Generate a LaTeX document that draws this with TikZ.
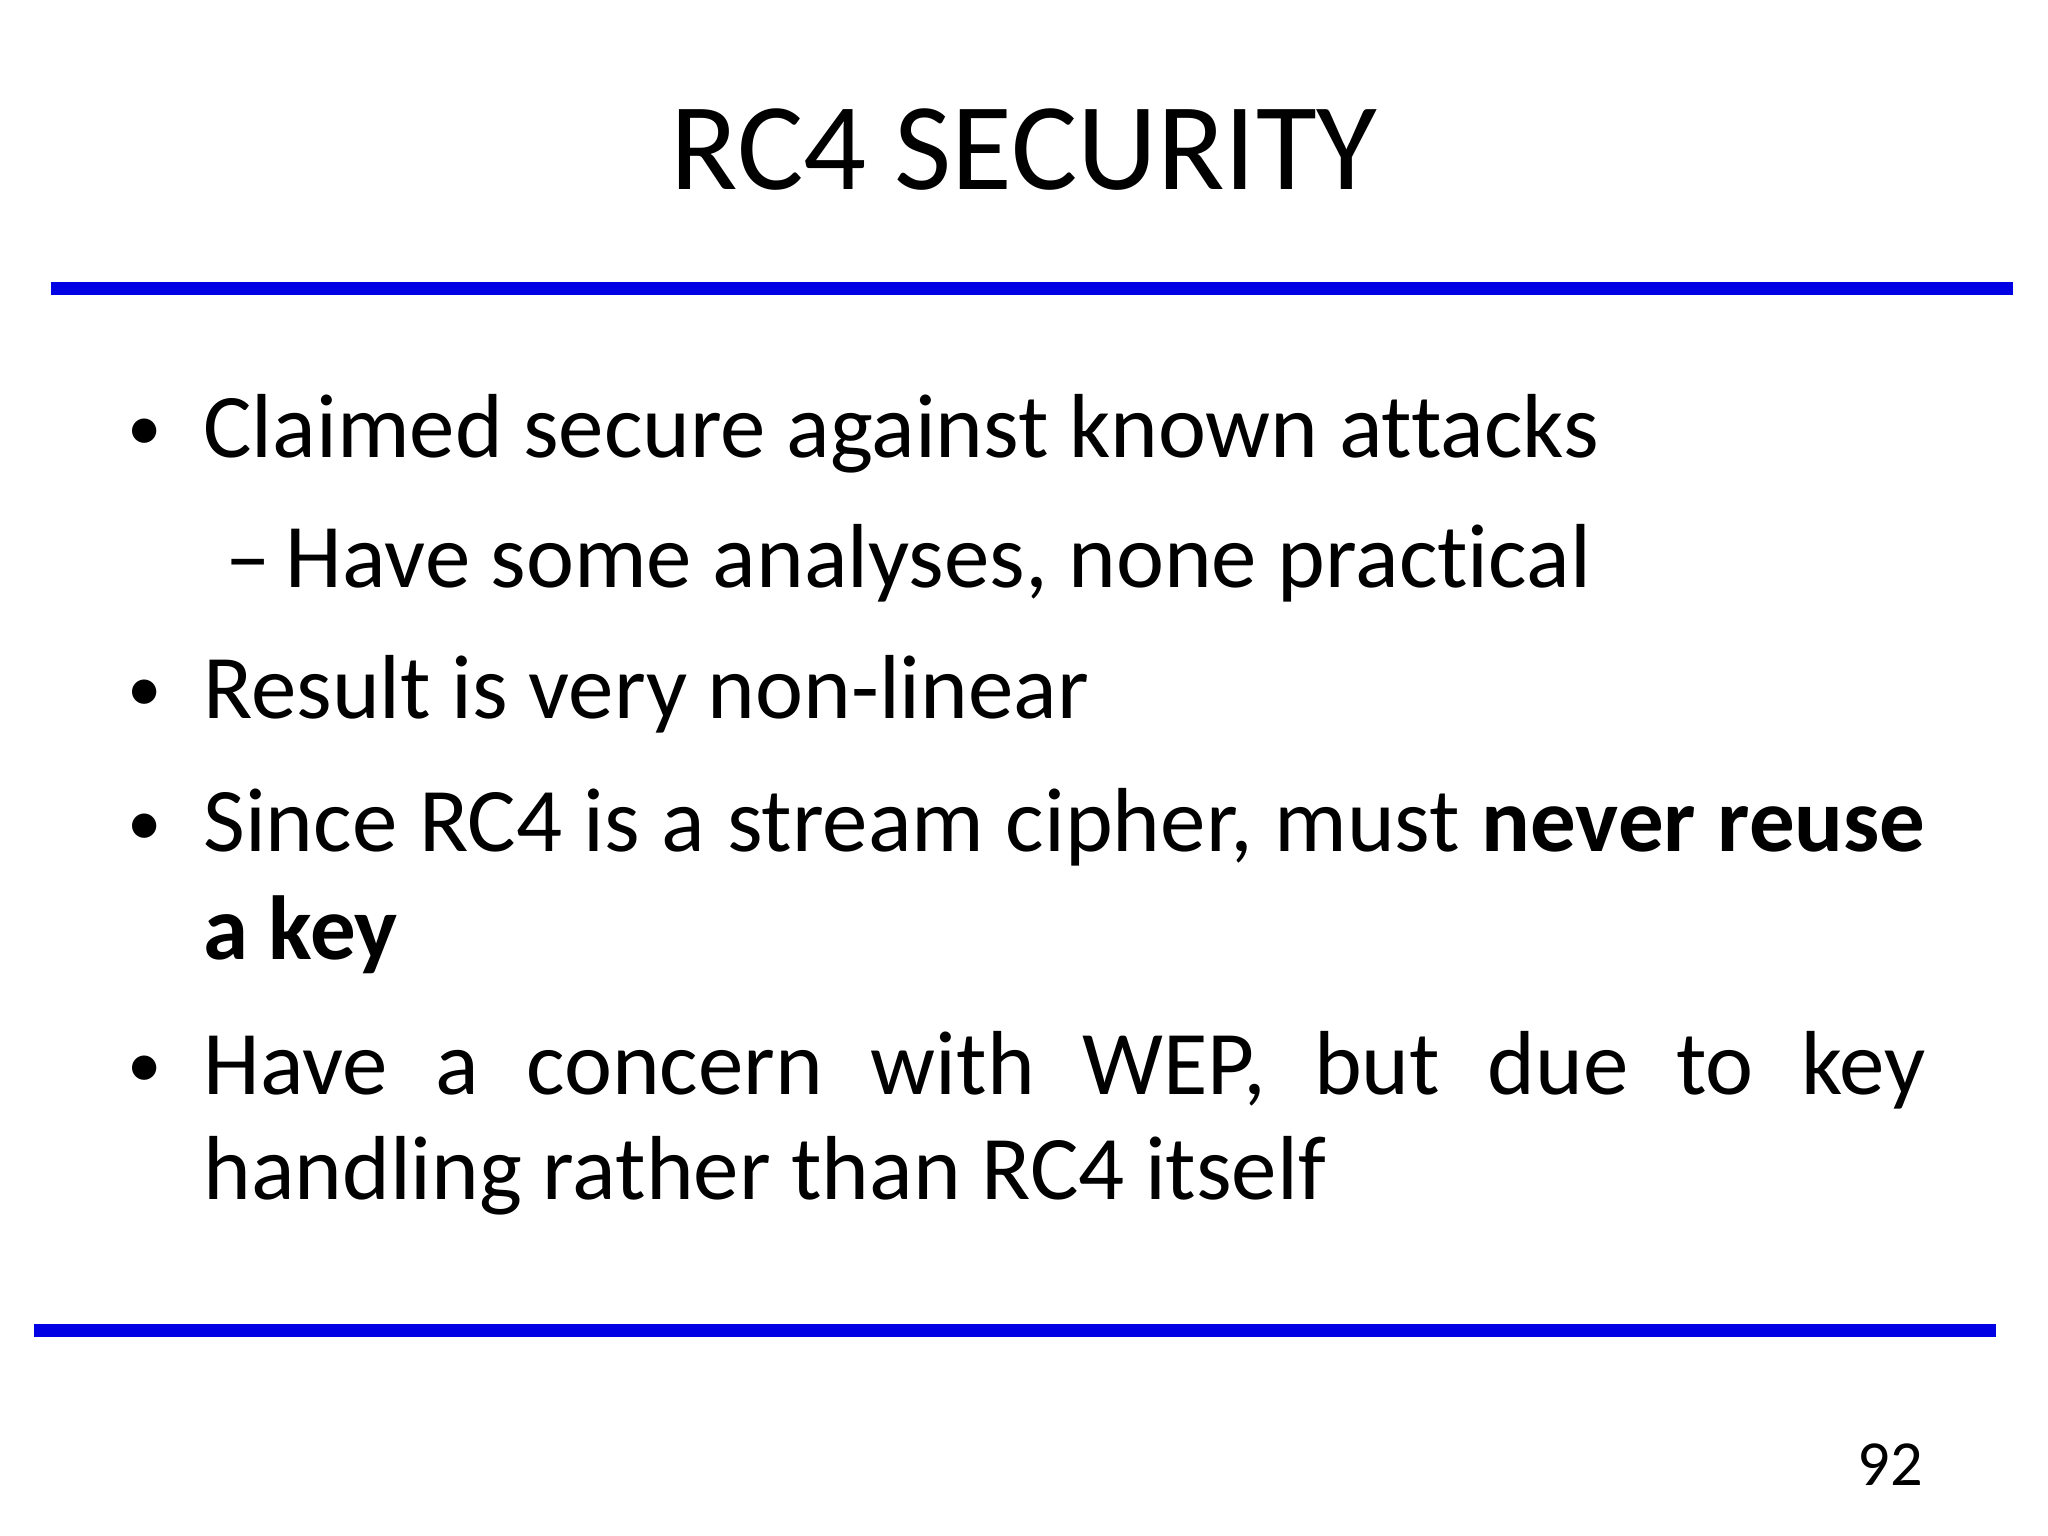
\documentclass[tikz,border=0pt]{standalone}
\usepackage{fontspec}
\setmainfont[Ligatures=NoCommon]{Carlito}
\begin{document}
\begin{tikzpicture}[x=0.01cm,y=-0.01cm,
  body/.style={anchor=base west,inner sep=0pt,font=\fontsize{19.8pt}{24pt}\selectfont},
  bul/.style={anchor=base west,inner sep=0pt,font=\fontsize{15pt}{18pt}\selectfont},
  rule/.style={draw=blue!90!black,line width=0.1cm}]
\useasboundingbox (0,0) rectangle (1568,1176);
\node[anchor=base,inner sep=0pt,font=\fontsize{27.1pt}{30pt}\selectfont] (title) at (784,145) {RC4 SECURITY};
\coordinate (t1) at (39,221); \coordinate (t2) at (1541,221);
\draw[rule] (t1) -- (t2);
\node[bul] (b1) at (97,345) {•};
\node[body] (l1) at (155,350) {Claimed secure against known attacks};
\node[body] (l2) at (172,450) {–\,Have some analyses, none practical};
\node[bul] (b3) at (97,545) {•};
\node[body] (l3) at (155,550) {Result is very non-linear};
\node[bul] (b4) at (97,647) {•};
\node[body] (l4) at (155,652) {\makebox[13.18cm][s]{Since RC4 is a stream cipher, must \textbf{never reuse}}};
\node[body] (l4b) at (155,735) {\textbf{a key}};
\node[bul] (b5) at (97,833) {•};
\node[body] (l5) at (155,838) {\makebox[13.18cm][s]{Have a concern with WEP, but due to key}};
\node[body] (l5b) at (155,918) {handling rather than RC4 itself};
\coordinate (u1) at (26,1019); \coordinate (u2) at (1528,1019);
\draw[rule] (u1) -- (u2);
\node[anchor=base east,inner sep=0pt,font=\fontsize{14pt}{16pt}\selectfont] (pg) at (1473,1137) {92};
\end{tikzpicture}
\end{document}
